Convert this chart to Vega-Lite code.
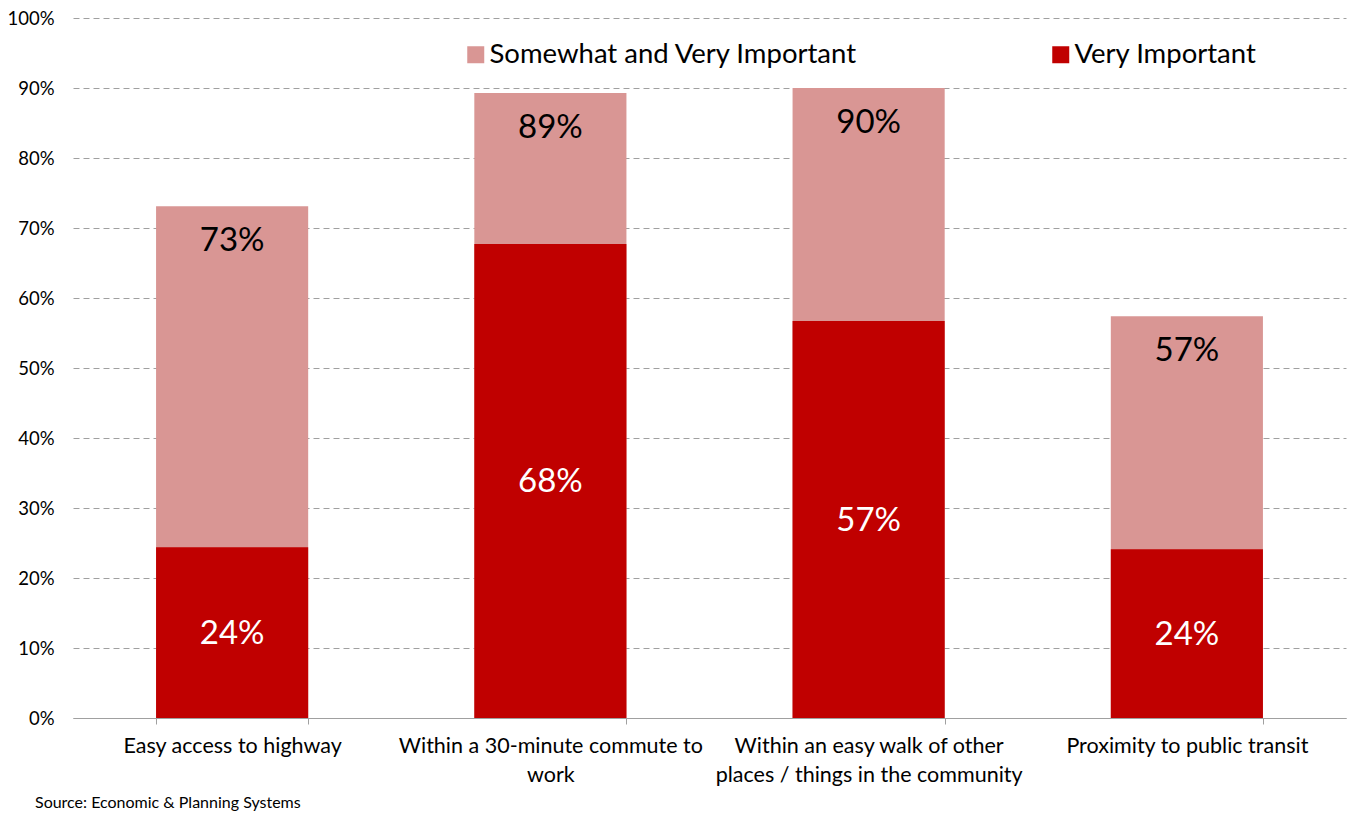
{
  "$schema": "https://vega.github.io/schema/vega-lite/v6.json",
  "width": 1273,
  "height": 700,
  "autosize": {"type": "none"},
  "padding": {"left": 73, "top": 18, "right": 2, "bottom": 95},
  "background": "white",
  "config": {
    "font": "Lato",
    "view": {"stroke": null},
    "axisY": {
      "grid": true,
      "gridDash": [6, 4],
      "gridColor": "#a0a0a0",
      "gridWidth": 1,
      "domain": false,
      "ticks": false,
      "tickSize": 0,
      "labelPadding": 19,
      "labelFontSize": 18.5,
      "labelColor": "#000000",
      "labelFont": "Lato"
    },
    "axisX": {
      "domainColor": "#a0a0a0",
      "tickColor": "#a0a0a0",
      "tickSize": 6,
      "tickBand": "extent",
      "labelFontSize": 21.5,
      "labelPadding": 11,
      "labelLineHeight": 29,
      "labelAngle": 0,
      "labelColor": "#000000",
      "labelLimit": 400,
      "labelOverlap": false,
      "labelFont": "Lato"
    },
    "legend": {
      "orient": "none",
      "symbolType": "square",
      "symbolSize": 289,
      "symbolStrokeWidth": 0,
      "labelFontSize": 27.5,
      "labelOffset": 0,
      "labelColor": "#000000",
      "labelFont": "Lato",
      "labelLimit": 500,
      "padding": 0,
      "title": null
    }
  },
  "title": {
    "text": "Source: Economic & Planning Systems",
    "orient": "bottom",
    "anchor": "start",
    "frame": "group",
    "fontSize": 16,
    "fontWeight": "normal",
    "font": "Lato",
    "color": "#000000",
    "dx": -38,
    "offset": 9
  },
  "data": {
    "values": [
      {"category": "Easy access to highway", "series": "Somewhat and Very Important", "value": 0.731},
      {"category": "Within a 30-minute commute to work", "series": "Somewhat and Very Important", "value": 0.893},
      {"category": "Within an easy walk of other places / things in the community", "series": "Somewhat and Very Important", "value": 0.9},
      {"category": "Proximity to public transit", "series": "Somewhat and Very Important", "value": 0.574},
      {"category": "Easy access to highway", "series": "Very Important", "value": 0.244},
      {"category": "Within a 30-minute commute to work", "series": "Very Important", "value": 0.677},
      {"category": "Within an easy walk of other places / things in the community", "series": "Very Important", "value": 0.567},
      {"category": "Proximity to public transit", "series": "Very Important", "value": 0.241}
    ]
  },
  "encoding": {
    "x": {
      "field": "category",
      "type": "nominal",
      "sort": null,
      "scale": {"paddingInner": 0.522, "paddingOuter": 0.261},
      "axis": {
        "title": null,
        "labelExpr": "datum.value == 'Within a 30-minute commute to work' ? ['Within a 30-minute commute to', 'work'] : datum.value == 'Within an easy walk of other places / things in the community' ? ['Within an easy walk of other', 'places / things in the community'] : datum.label"
      }
    }
  },
  "layer": [
    {
      "transform": [{"filter": "datum.series == 'Somewhat and Very Important'"}],
      "mark": {"type": "bar"},
      "encoding": {
        "y": {"field": "value", "type": "quantitative", "scale": {"domain": [0, 1]}, "axis": {"title": null, "format": ".0%", "values": [0, 0.1, 0.2, 0.3, 0.4, 0.5, 0.6, 0.7, 0.8, 0.9, 1]}},
        "color": {
          "field": "series",
          "type": "nominal",
          "scale": {"domain": ["Somewhat and Very Important"], "range": ["#D99694"]},
          "legend": {"legendX": 389, "legendY": 23}
        }
      }
    },
    {
      "transform": [{"filter": "datum.series == 'Very Important'"}],
      "mark": {"type": "bar"},
      "encoding": {
        "y": {"field": "value", "type": "quantitative", "scale": {"domain": [0, 1]}, "axis": {"title": null, "format": ".0%", "values": [0, 0.1, 0.2, 0.3, 0.4, 0.5, 0.6, 0.7, 0.8, 0.9, 1]}},
        "color": {
          "field": "series",
          "type": "nominal",
          "scale": {"domain": ["Very Important"], "range": ["#C00000"]},
          "legend": {"legendX": 974, "legendY": 23}
        }
      }
    },
    {
      "transform": [{"filter": "datum.series == 'Somewhat and Very Important'"}],
      "mark": {"type": "text", "dy": 35, "fontSize": 33, "color": "#000000", "font": "Lato"},
      "encoding": {
        "y": {"field": "value", "type": "quantitative", "axis": {"title": null, "format": ".0%", "values": [0, 0.1, 0.2, 0.3, 0.4, 0.5, 0.6, 0.7, 0.8, 0.9, 1]}},
        "text": {"field": "value", "type": "quantitative", "format": ".0%"}
      }
    },
    {
      "transform": [
        {"filter": "datum.series == 'Very Important'"},
        {"calculate": "datum.value / 2", "as": "mid"}
      ],
      "mark": {"type": "text", "dy": 1, "fontSize": 33, "color": "#ffffff", "font": "Lato"},
      "encoding": {
        "y": {"field": "mid", "type": "quantitative", "axis": {"title": null, "format": ".0%", "values": [0, 0.1, 0.2, 0.3, 0.4, 0.5, 0.6, 0.7, 0.8, 0.9, 1]}},
        "text": {"field": "value", "type": "quantitative", "format": ".0%"}
      }
    }
  ],
  "resolve": {"scale": {"color": "independent"}}
}
